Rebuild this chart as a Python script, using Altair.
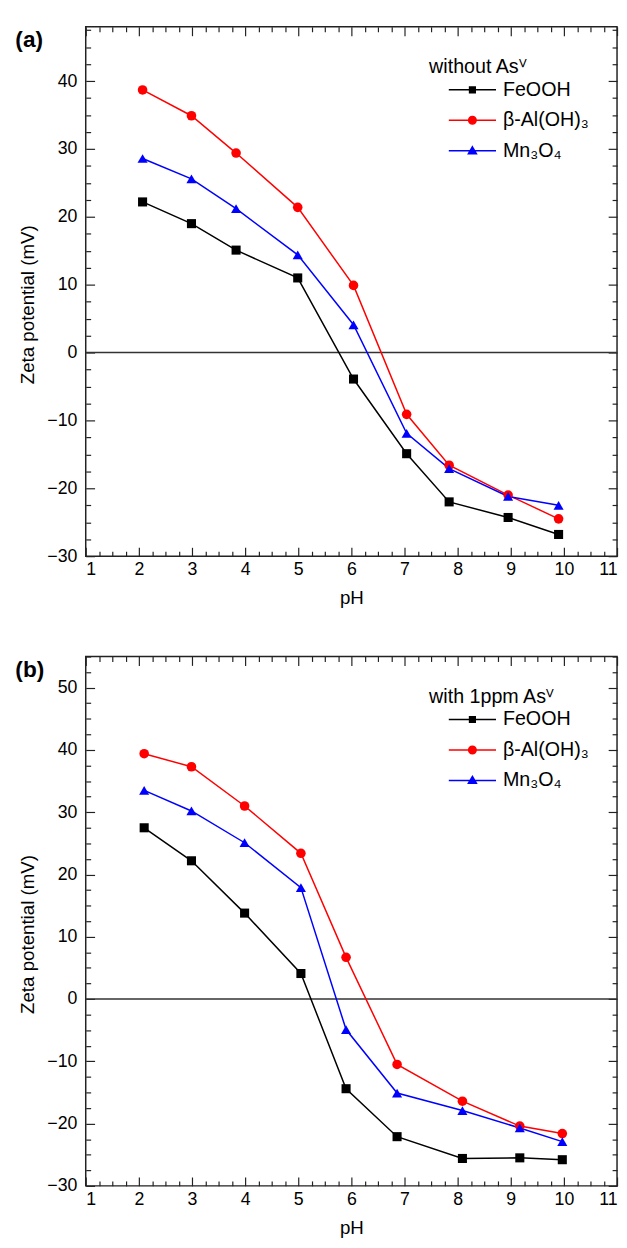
import altair as alt
import pandas as pd

FONT = "Liberation Sans"

series = ["FeOOH", "β-Al(OH)₃", "Mn₃O₄"]
colors = ["#000000", "#ff0000", "#0000ff"]
marker_shapes = ["square", "circle", "triangle-up"]
marker_sizes = [85, 105, 115]

# Panel (a): without As(V)
ph_a = [2.07, 2.99, 3.83, 4.99, 6.04, 7.04, 7.84, 8.95, 9.90]
feooh_a = [22.2, 19.0, 15.1, 11.0, -3.9, -14.9, -22.0, -24.3, -26.8]
al_a = [38.7, 34.9, 29.4, 21.4, 9.9, -9.1, -16.6, -21.0, -24.5]
mn_a = [28.6, 25.6, 21.2, 14.4, 4.1, -11.9, -17.1, -21.2, -22.5]

# Panel (b): with 1 ppm As(V)
ph_b = [2.10, 2.99, 3.99, 5.05, 5.90, 6.86, 8.09, 9.17, 9.97]
feooh_b = [27.5, 22.2, 13.8, 4.1, -14.4, -22.1, -25.6, -25.5, -25.8]
al_b = [39.4, 37.3, 31.0, 23.4, 6.7, -10.5, -16.4, -20.4, -21.6]
mn_b = [33.5, 30.2, 25.1, 17.9, -4.9, -15.1, -17.9, -20.7, -22.9]

x_ticks = [1, 2, 3, 4, 5, 6, 7, 8, 9, 10, 11]
y_ticks_a = [-30, -20, -10, 0, 10, 20, 30, 40]
y_ticks_b = [-30, -20, -10, 0, 10, 20, 30, 40, 50]
zero_line = [0]

x_minor = [x + q for x in x_ticks[:-1] for q in (0.25, 0.5, 0.75)]


def y_minor(ymax):
    out = []
    v = -30.0
    while v <= ymax + 1e-9:
        if abs(v / 10 - round(v / 10)) > 1e-9:
            out.append(v)
        v += 2.5
    return out


# legend symbols: a short line with the marker in its middle (unit coords, 1 = half width)
legend_paths = [
    "M-1,0H1M-0.12,-0.12H0.12V0.12H-0.12Z",
    "M-1,0H1M-0.16,0A0.16,0.16,0,1,0,0.16,0A0.16,0.16,0,1,0,-0.16,0Z",
    "M-1,0H1M0,-0.17L0.17,0.12L-0.17,0.12Z",
]


def long_df(ph, cols):
    rows = []
    for name, vals in zip(series, cols):
        for p, v in zip(ph, vals):
            rows.append({"pH": p, "zeta": v, "series": name})
    return pd.DataFrame(rows)


MAJOR = 9
MINOR = 5
H = 538


def axis(orient, values, size, labels=False, title=None, **kw):
    return alt.Axis(
        orient=orient, values=values, tickSize=size, offset=-size,
        domain=False, grid=False, labels=labels, title=title,
        tickColor="#222222", tickWidth=1.2, **kw
    )


def panel(df, ymax, yticks, letter, legend_title):
    xs = alt.Scale(domain=[1, 11], nice=False, zero=False)
    ys = alt.Scale(domain=[-30, ymax], nice=False, zero=False)
    yminor = y_minor(ymax)
    color = alt.Color("series:N", scale=alt.Scale(domain=series, range=colors), legend=None)
    base = alt.Chart(df)

    label_kw = dict(labelFont=FONT, labelFontSize=18, labelColor="#000000",
                    titleFont=FONT, titleFontSize=19, titleColor="#000000",
                    titleFontWeight="normal", format="d")

    zero = alt.Chart(pd.DataFrame({"z": zero_line})).mark_rule(
        color="#333333", strokeWidth=1.5
    ).encode(y=alt.Y("z:Q", scale=ys, axis=None))

    lines = base.mark_line(strokeWidth=1.5).encode(
        x=alt.X("pH:Q", scale=xs,
                axis=axis("bottom", x_ticks, MAJOR, labels=True, title="pH",
                          labelPadding=5, titlePadding=10, **label_kw)),
        y=alt.Y("zeta:Q", scale=ys,
                axis=axis("left", yticks, MAJOR, labels=True, title="Zeta potential (mV)",
                          labelPadding=9, titlePadding=10, titleY=H / 2 + 13, **label_kw)),
        color=color,
        detail="series:N",
    )

    points = base.mark_point(filled=True, opacity=1).encode(
        x=alt.X("pH:Q", scale=xs, axis=axis("bottom", x_minor, MINOR)),
        y=alt.Y("zeta:Q", scale=ys, axis=axis("left", yminor, MINOR)),
        color=color,
        shape=alt.Shape("series:N", scale=alt.Scale(domain=series, range=marker_shapes), legend=None),
        size=alt.Size("series:N", scale=alt.Scale(domain=series, range=marker_sizes), legend=None),
    )

    top_major = base.mark_point(opacity=0).encode(
        x=alt.X("pH:Q", scale=xs, axis=axis("top", x_ticks, MAJOR)),
        y=alt.Y("zeta:Q", scale=ys, axis=axis("right", yticks, MAJOR)),
    )

    leg = alt.Legend(
        orient="none", legendX=349, legendY=31, padding=0,
        title=legend_title, titleFont=FONT, titleFontSize=20, titleFontWeight="normal",
        titleColor="#000000", titlePadding=-2, titleAnchor="start",
        labelFont=FONT, labelFontSize=20, labelColor="#000000",
        symbolSize=2304, symbolStrokeWidth=1.5, symbolOpacity=1,
        symbolOffset=19, labelOffset=6, rowPadding=1, clipHeight=30,
    )
    legend_layer = base.mark_point(filled=True, opacity=0).encode(
        x=alt.X("pH:Q", scale=xs, axis=axis("top", x_minor, MINOR)),
        y=alt.Y("zeta:Q", scale=ys, axis=axis("right", yminor, MINOR)),
        fill=alt.Fill("series:N", scale=alt.Scale(domain=series, range=colors), legend=leg),
        stroke=alt.Stroke("series:N", scale=alt.Scale(domain=series, range=colors), legend=leg),
        shape=alt.Shape("series:N", scale=alt.Scale(domain=series, range=legend_paths), legend=leg),
    )

    return alt.layer(zero, lines, points, top_major, legend_layer).resolve_axis(
        x="independent", y="independent"
    ).resolve_scale(
        shape="independent", fill="independent", stroke="independent", color="independent"
    ).properties(
        width=540, height=H,
        title=alt.TitleParams(text=letter, anchor="start", frame="bounds", orient="top",
                              offset=-26, dx=-3, font=FONT, fontSize=23, fontWeight="bold",
                              color="#000000"),
    )


pa = panel(long_df(ph_a, [feooh_a, al_a, mn_a]), 48, y_ticks_a, "(a)", "without Asⱽ")
pb = panel(long_df(ph_b, [feooh_b, al_b, mn_b]), 55, y_ticks_b, "(b)", "with 1ppm Asⱽ")

chart = alt.vconcat(pa, pb, spacing=47).resolve_scale(
    shape="independent", fill="independent", stroke="independent", color="independent",
    size="independent"
).properties(
    padding={"left": 6, "top": 7, "right": 0, "bottom": 0}
).configure_view(stroke="#222222", strokeWidth=1.5)

chart.save("out.html", embed_options={"renderer": "svg", "actions": False})
